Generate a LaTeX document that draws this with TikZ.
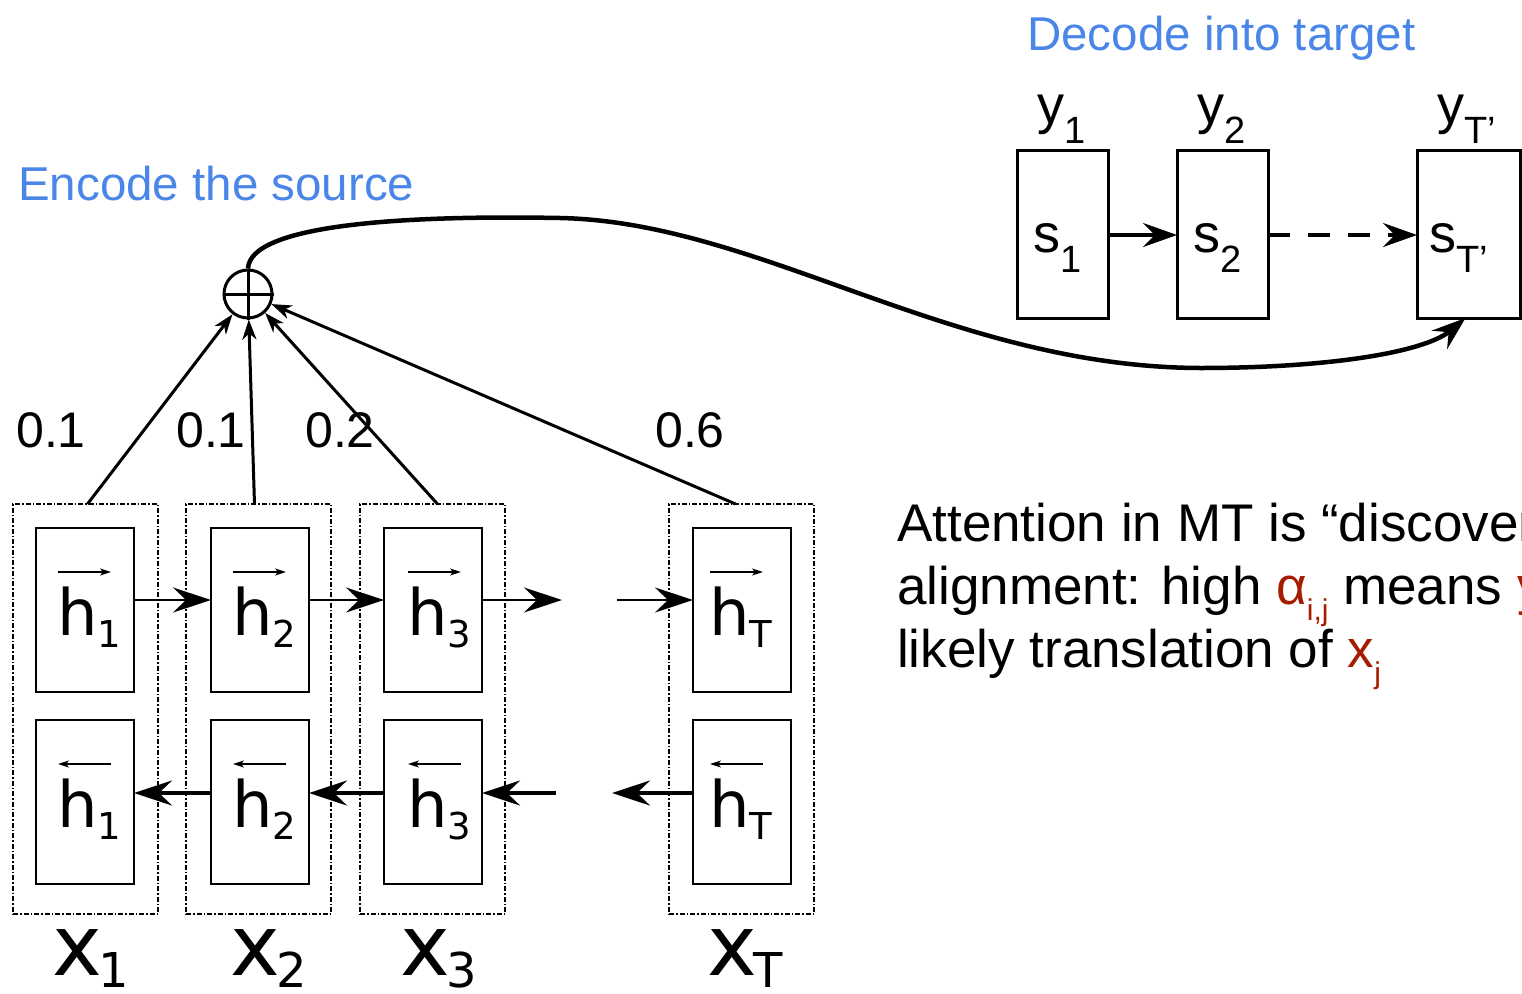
\documentclass[tikz,border=0pt]{standalone}
\usepackage{fontspec}
\setmainfont{Liberation Sans}
\newfontfamily\djv{DejaVu Sans}
\usetikzlibrary{arrows.meta}
\definecolor{encblue}{HTML}{4A86E8}
\definecolor{alred}{HTML}{A61C00}

% subscripts of different sizes
\newcommand\hsub[1]{\raisebox{-12pt}{\fontsize{37}{37}\selectfont #1}}
\newcommand\xsub[1]{\kern-3pt\smash{\raisebox{-12pt}{\fontsize{48}{48}\selectfont #1}}}
\newcommand\ssub[1]{\raisebox{-20pt}{\fontsize{38}{38}\selectfont #1}}
\newcommand\tsub[1]{\raisebox{-16pt}{\fontsize{30}{30}\selectfont #1}}

\tikzset{
  cell/.style={draw, line width=2pt, minimum width=98pt, minimum height=164pt,
    inner sep=0pt, outer sep=0pt, anchor=north west},
  col/.style={draw, line width=2pt, dash pattern=on 5pt off 2pt on 1.5pt off 2pt,
    minimum width=145pt, minimum height=410pt, inner sep=0pt, outer sep=0pt, anchor=north west},
  dec/.style={draw, line width=3pt, minimum width=91pt, minimum height=168pt,
    inner sep=0pt, outer sep=0pt, anchor=north west},
  fwd/.style={line width=2pt, -{Stealth[length=38pt,width=25pt,inset=13pt]}},
  bwd/.style={line width=3.5pt, -{Stealth[length=38pt,width=25pt,inset=13pt]}},
  wt/.style={line width=3pt, -{Stealth[length=20pt,width=14pt,inset=6pt]}},
  over/.style={line width=1.5pt, -{Stealth[length=11pt,width=7pt,inset=3pt]}},
  decarrow/.style={line width=4pt, -{Stealth[length=34pt,width=24pt,inset=12pt]}},
  curvearrow/.style={line width=4.5pt, -{Stealth[length=34pt,width=24pt,inset=12pt]}},
  hlab/.style={anchor=base west, inner sep=0pt, font=\djv\fontsize{64}{64}\selectfont},
  xlab/.style={anchor=base west, inner sep=0pt, font=\djv\fontsize{84}{84}\selectfont},
  slab/.style={anchor=base west, inner sep=0pt, font=\fontsize{54}{54}\selectfont},
  wlab/.style={anchor=base west, inner sep=0pt, font=\fontsize{50}{50}\selectfont},
  title/.style={anchor=base west, inner sep=0pt, text=encblue, font=\fontsize{47.5}{47.5}\selectfont},
  body/.style={anchor=base west, inner sep=0pt, font=\fontsize{53}{53}\selectfont},
}

\begin{document}
\begin{tikzpicture}[x=1pt, y=-1pt]
\useasboundingbox (0,0) rectangle (1522,993);
\clip (0,0) rectangle (1522,993);

% encoder columns (dash-dotted frames)
\node[col] (c1) at (13,504) {};
\node[col] (c2) at (186,504) {};
\node[col] (c3) at (360,504) {};
\node[col] (c4) at (669,504) {};

% forward and backward cells
\node[cell] (f1) at (36,528) {};
\node[cell] (f2) at (211,528) {};
\node[cell] (f3) at (384,528) {};
\node[cell] (f4) at (693,528) {};
\node[cell] (b1) at (36,720) {};
\node[cell] (b2) at (211,720) {};
\node[cell] (b3) at (384,720) {};
\node[cell] (b4) at (693,720) {};

% hidden-state labels with direction arrows
\foreach \n/\x/\s in {1/57/1, 2/232/2, 3/407/3, 4/709/T}{
  \node[hlab] (fh\n) at (\x,635) {h\hsub{\s}};
  \node[hlab] (bh\n) at (\x,827) {h\hsub{\s}};
  \draw[over] ([xshift=1pt,yshift=63pt]fh\n.base west) -- ++(53pt,0pt);
  \draw[over] ([xshift=54pt,yshift=63pt]bh\n.base west) -- ++(-53pt,0pt);
}

% input tokens
\node[xlab] (x1) at (52,975) {x\xsub{1}};
\node[xlab] (x2) at (230,975) {x\xsub{2}};
\node[xlab] (x3) at (400,975) {x\xsub{3}};
\node[xlab] (x4) at (707,975) {x\xsub{T}};

% recurrent connections (a little above the cell centres)
\coordinate (fgapL) at (562,600);
\coordinate (fgapR) at (617,600);
\coordinate (bgapL) at (612,793);
\coordinate (bgapR) at (556,793);
\draw[fwd] ([yshift=10pt]f1.east) -- ([yshift=10pt]f2.west);
\draw[fwd] ([yshift=10pt]f2.east) -- ([yshift=10pt]f3.west);
\draw[fwd] ([yshift=10pt]f3.east) -- (fgapL);
\draw[fwd] (fgapR) -- ([yshift=10pt]f4.west);
\draw[bwd] ([yshift=9pt]b2.west) -- ([yshift=9pt]b1.east);
\draw[bwd] ([yshift=9pt]b3.west) -- ([yshift=9pt]b2.east);
\draw[bwd] (bgapR) -- ([yshift=9pt]b3.east);
\draw[bwd] ([yshift=9pt]b4.west) -- (bgapL);

% weighted sum
\node[draw, circle, line width=3pt, minimum size=48pt, inner sep=0pt] (plus) at (248,294) {};
\draw[line width=3pt] (plus.north) -- (plus.south) (plus.west) -- (plus.east);

\draw[wt] ([xshift=2pt]c1.north) -- (plus);
\draw[wt] ([xshift=-4pt]c2.north) -- (plus);
\draw[wt] ([xshift=5pt]c3.north) -- (plus);
\draw[wt] ([xshift=-6pt]c4.north) -- (plus);

\node[wlab] (a1) at (16,447) {0.1};
\node[wlab] (a2) at (176,447) {0.1};
\node[wlab] (a3) at (305,447) {0.2};
\node[wlab] (a4) at (655,447) {0.6};

% decoder
\node[dec] (d1) at (1017,150) {};
\node[dec] (d2) at (1177,150) {};
\node[dec, minimum width=103pt] (d3) at (1417,150) {};

\node[slab] (s1) at (1033,252) {s\ssub{1}};
\node[slab] (s2) at (1193,252) {s\ssub{2}};
\node[slab] (s3) at (1429,252) {s\ssub{T’}};
\node[slab] (y1) at (1037,123) {y\ssub{1}};
\node[slab] (y2) at (1197,123) {y\ssub{2}};
\node[slab] (y3) at (1437,123) {y\ssub{T’}};

\draw[decarrow] ([yshift=-1pt]d1.east) -- ([yshift=-1pt]d2.west);
\draw[decarrow, dash pattern=on 22pt off 18pt] ([yshift=-1pt]d2.east) -- ([yshift=-1pt]d3.west);

% context vector fed to the decoder
\draw[curvearrow] (plus.north) .. controls (250,225) and (400,215) .. (560,218)
  .. controls (760,222) and (950,367) .. (1200,368)
  .. controls (1330,368) and (1425,352) .. ([xshift=-3pt]d3.south);

% headings
\node[title] (enc) at (18,200) {Encode the source};
\node[title] (decd) at (1027,50) {Decode into target};

% explanation
\node[body] (t1) at (897,541) {Attention in MT is “discovered”};
\node[body] (t2) at (897,604) {alignment: high {\color{alred}α\tsub{i,j}} means {\color{alred}y\tsub{i}} is};
\node[body] (t3) at (897,667) {likely translation of {\color{alred}x\tsub{j}}};
\end{tikzpicture}
\end{document}
